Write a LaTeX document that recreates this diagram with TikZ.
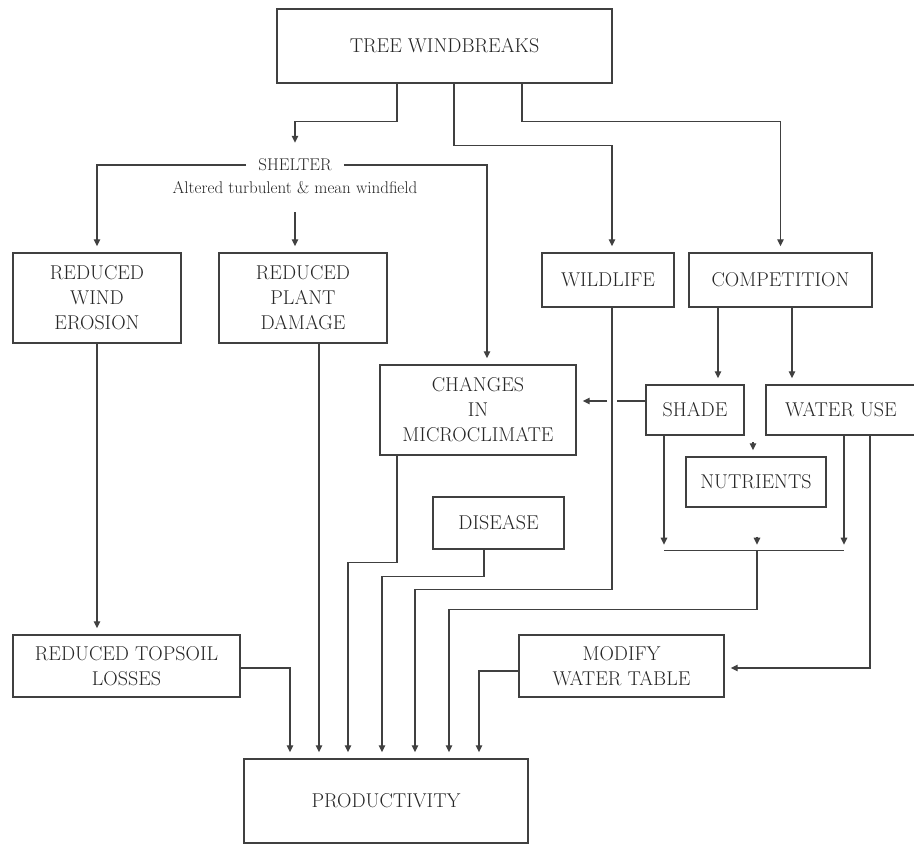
\documentclass[tikz,border=0pt]{standalone}
\usepackage{fontspec}
\usepackage{tikz}
\usetikzlibrary{arrows.meta, positioning, calc}

\begin{document}
\begin{tikzpicture}[
x=1pt, y=1pt,
box/.style={rectangle, draw=black!75, line width=1.4pt, inner sep=0pt, align=center, text=black!85, font=\fontsize{20}{25}\selectfont\addfontfeatures{LetterSpace=10}},
lbl/.style={inner sep=0pt, text=black!85, font=\fontsize{17}{20}\selectfont\addfontfeatures{LetterSpace=13}},
wire/.style={line width=1.4pt, draw=black!75},
arr/.style={-{Triangle[length=7pt,width=6.5pt]}, shorten >=6pt, line width=1.4pt, draw=black!75}
]
\useasboundingbox (0,0) rectangle (914,844);
\node[box, minimum width=335pt, minimum height=74pt] (tree) at (444.5,798) {TREE WINDBREAKS};
\node[lbl, inner xsep=12pt, minimum height=32pt] (shelter) at (295,679) {SHELTER};
\node[lbl] (alt) at (295,656) {Altered turbulent \& mean windfield};
\node[box, minimum width=168pt, minimum height=90pt] (wind) at (97,546) {REDUCED\\WIND\\EROSION};
\node[box, minimum width=168pt, minimum height=90pt] (plant) at (303,546) {REDUCED\\PLANT\\DAMAGE};
\node[box, minimum width=132pt, minimum height=54pt] (wild) at (608,564) {WILDLIFE};
\node[box, minimum width=183pt, minimum height=54pt] (comp) at (780.5,564) {COMPETITION};
\node[box, minimum width=196pt, minimum height=90pt] (clim) at (478,434) {CHANGES\\IN\\MICROCLIMATE};
\node[box, minimum width=98pt, minimum height=50pt] (shade) at (695,434) {SHADE};
\node[box, minimum width=150pt, minimum height=50pt] (water) at (841,434) {WATER USE};
\node[box, minimum width=140pt, minimum height=50pt] (nut) at (756,362) {NUTRIENTS};
\node[box, minimum width=131pt, minimum height=52pt] (dis) at (498.5,321) {DISEASE};
\node[box, minimum width=227pt, minimum height=62pt] (soil) at (126.5,178) {REDUCED TOPSOIL\\LOSSES};
\node[box, minimum width=205pt, minimum height=62pt] (table) at (621.5,178) {MODIFY\\WATER TABLE};
\node[box, minimum width=284pt, minimum height=84pt] (prod) at (386,43) {PRODUCTIVITY};
\coordinate (wl) at ([xshift=4pt]wild.south);
\coordinate (mrg) at ($(nut.south)+(1,-43)$);
% from the windbreak
\draw[arr] ([xshift=-47.5pt]tree.south) -- ++(0,-38) -| (shelter.north);
\draw[arr] ([xshift=9.5pt]tree.south) -- ++(0,-62) -| ([xshift=4pt]wild.north);
\draw[arr] ([xshift=77.5pt]tree.south) -- ++(0,-38) -| (comp.north);
% shelter
\draw[arr] (shelter.west) -| (wind.north);
\draw[arr] ([yshift=-18pt]alt.south) -- (plant.north -| alt.south);
\draw[arr] (shelter.east) -| ([xshift=9pt]clim.north);
% competition
\draw[arr] ([xshift=-62.5pt]comp.south) -- ([xshift=-62.5pt]comp.south |- shade.north);
\draw[arr] ([xshift=11.5pt]comp.south) -- ([xshift=11.5pt]comp.south |- water.north);
\draw[wire] ([yshift=9pt]shade.west) -- ($(wl |- shade.west)+(5,9)$);
\draw[arr] ($(wl |- shade.west)+(-5,9)$) -- ([yshift=9pt]clim.east);
\draw[arr] ([xshift=-3pt,yshift=14pt]nut.north) -- ([xshift=-3pt]nut.north);
\draw[arr] ([xshift=-31pt]shade.south) -- ([xshift=-31pt]shade.south |- mrg);
\draw[arr] ([xshift=3pt]water.south) -- ([xshift=3pt]water.south |- mrg);
\draw[wire] ([xshift=-31pt]shade.south |- mrg) -- ([xshift=3pt]water.south |- mrg);
\draw[arr] ($(mrg)+(0,14)$) -- (mrg);
\draw[arr] ([xshift=29pt]water.south) |- ([yshift=-2pt]table.east);
% into productivity
\draw[arr] (wind.south) -- (soil.north -| wind.south);
\draw[arr] ([yshift=-2pt]soil.east) -| ([xshift=-96pt]prod.north);
\draw[arr] ([xshift=16pt]plant.south) -- ([xshift=16pt]plant.south |- prod.north);
\draw[arr] ([xshift=-81pt]clim.south) -- ++(0,-107) -| ([xshift=-38pt]prod.north);
\draw[arr] ([xshift=-14.5pt]dis.south) -- ++(0,-27) -| ([xshift=-4pt]prod.north);
\draw[arr] (wl) -- ++(0,-282) -| ([xshift=29pt]prod.north);
\draw[arr] (mrg) -- ++(0,-59) -| ([xshift=63pt]prod.north);
\draw[arr] ([yshift=-5pt]table.west) -| ([xshift=93pt]prod.north);
\end{tikzpicture}
\end{document}
